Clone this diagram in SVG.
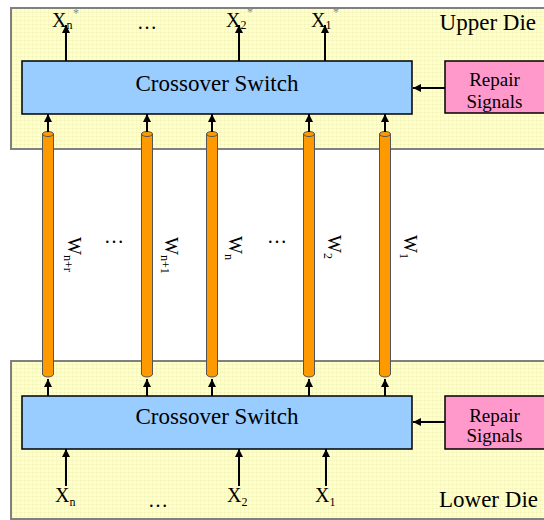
<svg xmlns="http://www.w3.org/2000/svg" width="544" height="520" viewBox="0 0 544 520" font-family="'Liberation Serif', 'DejaVu Serif', serif">
<style>
text{font-family:"Liberation Serif","DejaVu Serif",serif;fill:#000}
.die{fill:url(#grid);stroke:#808080;stroke-width:2}
.sw{fill:#99CCFF;stroke:#000;stroke-width:1.5}
.rp{fill:#FF99CC;stroke:#000;stroke-width:1.5}
.big{font-size:23px}
.rs{font-size:19px;text-anchor:middle}
.lab{font-size:20px}
.sub{font-size:12px}
.star{font-size:12px;fill:#888}
.pil{fill:#FF9900;stroke:#555;stroke-width:1}
.cn line{stroke:#000;stroke-width:2;marker-end:url(#ah)}
</style>
<defs>
<pattern id="grid" width="4" height="4" patternUnits="userSpaceOnUse">
<rect width="4" height="4" fill="#FFFFCC"/>
<path d="M0,0.25H4M0.25,0V4" stroke="#EDEDB0" stroke-width="0.5"/>
</pattern>
<marker id="ah" viewBox="0 0 10 10" refX="10" refY="5" markerWidth="8" markerHeight="8" markerUnits="userSpaceOnUse" orient="auto">
<path d="M0,0L10,5L0,10z" fill="#000"/>
</marker>
</defs>
<rect width="544" height="520" fill="#fff"/>
<g id="upper-die">
<rect class="die" x="11" y="8" width="540" height="141"/>
<text class="big" x="536" y="30" text-anchor="end">Upper Die</text>
</g>
<g id="lower-die">
<rect class="die" x="11" y="361" width="540" height="158"/>
<text class="big" x="538" y="507" text-anchor="end">Lower Die</text>
</g>
<g id="upper-switch">
<rect class="sw" x="22" y="61" width="390" height="53"/>
<text class="big" x="217" y="91" text-anchor="middle">Crossover Switch</text>
</g>
<g id="lower-switch">
<rect class="sw" x="22" y="396" width="390" height="53"/>
<text class="big" x="217" y="424" text-anchor="middle">Crossover Switch</text>
</g>
<g id="upper-repair">
<rect class="rp" x="445" y="61" width="102" height="52"/>
<text class="rs" x="494.5" y="85.5">Repair</text>
<text class="rs" x="494.5" y="107.5">Signals</text>
</g>
<g id="lower-repair">
<rect class="rp" x="445" y="396" width="102" height="53"/>
<text class="rs" x="494.5" y="421.5">Repair</text>
<text class="rs" x="494.5" y="442">Signals</text>
</g>
<g id="pillars">
<g id="w-n-r"><path class="pil" d="M42.5,134V374a5.5,3 0 0 0 11,0V134z"/><ellipse class="pil" cx="48" cy="134" rx="5.5" ry="2.5"/></g>
<g id="w-n-1"><path class="pil" d="M141.5,134V374a5.5,3 0 0 0 11,0V134z"/><ellipse class="pil" cx="147" cy="134" rx="5.5" ry="2.5"/></g>
<g id="w-n"><path class="pil" d="M206.5,134V374a5.5,3 0 0 0 11,0V134z"/><ellipse class="pil" cx="212" cy="134" rx="5.5" ry="2.5"/></g>
<g id="w-2"><path class="pil" d="M303.5,134V374a5.5,3 0 0 0 11,0V134z"/><ellipse class="pil" cx="309" cy="134" rx="5.5" ry="2.5"/></g>
<g id="w-1"><path class="pil" d="M379.5,134V374a5.5,3 0 0 0 11,0V134z"/><ellipse class="pil" cx="385" cy="134" rx="5.5" ry="2.5"/></g>
</g>
<g id="wire-labels">
<text class="lab" transform="translate(68,237) rotate(90)" style="font-size:19px">W<tspan class="sub" dy="4">n+r</tspan></text>
<text class="lab" transform="translate(165,237) rotate(90)" style="font-size:19px">W<tspan class="sub" dy="4">n+1</tspan></text>
<text class="lab" transform="translate(229,236) rotate(90)" style="font-size:19px">W<tspan class="sub" dy="4">n</tspan></text>
<text class="lab" transform="translate(328,235) rotate(90)" style="font-size:19px">W<tspan class="sub" dy="4">2</tspan></text>
<text class="lab" transform="translate(404,235) rotate(90)" style="font-size:19px">W<tspan class="sub" dy="4">1</tspan></text>
<text class="lab" x="104" y="243">…</text>
<text class="lab" x="267" y="243">…</text>
</g>
<g id="io-labels">
<text class="lab" x="52" y="27">X<tspan class="sub" dy="2">n</tspan></text>
<text class="star" x="73" y="17">*</text>
<text class="lab" x="226" y="27">X<tspan class="sub" dy="2">2</tspan></text>
<text class="star" x="247" y="16">*</text>
<text class="lab" x="311" y="27">X<tspan class="sub" dy="2">1</tspan></text>
<text class="star" x="333" y="16">*</text>
<text class="lab" x="137" y="29">…</text>
<text class="lab" x="55" y="502">X<tspan class="sub" dy="4">n</tspan></text>
<text class="lab" x="227" y="502">X<tspan class="sub" dy="4">2</tspan></text>
<text class="lab" x="315" y="502">X<tspan class="sub" dy="4">1</tspan></text>
<text class="lab" x="148" y="507">…</text>
</g>
<g id="connectors" class="cn">
<line x1="66" y1="61" x2="66" y2="25"/>
<line x1="239" y1="61" x2="239" y2="25"/>
<line x1="325" y1="61" x2="325" y2="25"/>
<line x1="445" y1="88" x2="413" y2="88"/>
<line x1="445" y1="422" x2="413" y2="422"/>
<line x1="48" y1="132" x2="48" y2="114"/>
<line x1="147" y1="132" x2="147" y2="114"/>
<line x1="212" y1="132" x2="212" y2="114"/>
<line x1="309" y1="132" x2="309" y2="114"/>
<line x1="385" y1="132" x2="385" y2="114"/>
<line x1="48" y1="396" x2="48" y2="379"/>
<line x1="147" y1="396" x2="147" y2="379"/>
<line x1="212" y1="396" x2="212" y2="379"/>
<line x1="309" y1="396" x2="309" y2="379"/>
<line x1="385" y1="396" x2="385" y2="379"/>
<line x1="66" y1="486" x2="66" y2="449"/>
<line x1="239" y1="486" x2="239" y2="449"/>
<line x1="326" y1="486" x2="326" y2="449"/>
</g>
</svg>
